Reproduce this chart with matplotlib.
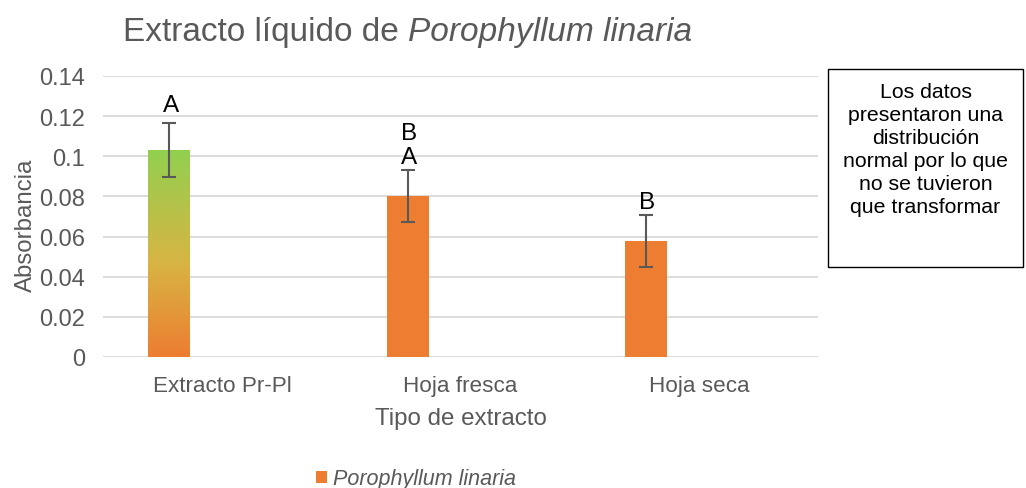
import numpy as np
import matplotlib.pyplot as plt
from matplotlib.colors import LinearSegmentedColormap

categories = ["Extracto Pr-Pl", "Hoja fresca", "Hoja seca"]
values = [0.1031, 0.0802, 0.0578]
errors = [0.0133, 0.0131, 0.0130]
letters = ["A", "B\nA", "B"]
yticks = [0, 0.02, 0.04, 0.06, 0.08, 0.1, 0.12, 0.14]
ytick_labels = ["0", "0.02", "0.04", "0.06", "0.08", "0.1", "0.12", "0.14"]
series_name = "Porophyllum linaria"
note = "Los datos\npresentaron una\ndistribución\nnormal por lo que\nno se tuvieron\nque transformar"

# layout of the letter annotations (points above the error bar)
letter_offsets = [5, 1.5, 1.5]

plt.rcParams['font.family'] = ['Liberation Sans', 'DejaVu Sans']
gray = "#595959"
orange = "#ED7D31"

fig = plt.figure(figsize=(10.26, 4.89), dpi=100)
ax = fig.add_axes([103/1026, 1-358/489, 715/1026, 281/489])

x = np.arange(len(categories))
width = 0.176
offset = -0.222
bars = ax.bar(x + offset, values, width=width, color=orange, zorder=3, label=series_name)

# gradient for first bar
cmap = LinearSegmentedColormap.from_list("g", [(0, orange), (0.45, "#D8B443"), (1, "#92D050")])
b0 = bars[0]
bx, bw, bh = b0.get_x(), b0.get_width(), b0.get_height()
grad = np.linspace(0, 1, 256).reshape(-1, 1)
b0.set_facecolor("none")
ax.imshow(grad, cmap=cmap, origin="lower", extent=[bx, bx + bw, 0, bh],
          aspect="auto", zorder=3)

ax.errorbar(x + offset, values, yerr=errors, fmt="none", ecolor=gray,
            elinewidth=1.5, capsize=5, capthick=1.5, zorder=4)

for xi, v, e, t, off in zip(x + offset, values, errors, letters, letter_offsets):
    ax.annotate(t, (xi, v + e), xytext=(1, off), textcoords="offset points",
                ha="center", va="bottom", fontsize=17.5, color="black",
                linespacing=1.07, zorder=5)

ax.set_xlim(-0.5, len(categories) - 0.5)
ax.set_ylim(0, 0.14)
ax.set_yticks(yticks)
ax.set_yticklabels(ytick_labels)
ax.set_xticks(x)
ax.set_xticklabels(categories)
ax.tick_params(axis="both", length=0, labelcolor=gray)
ax.tick_params(axis="x", pad=13, labelsize=16.2)
ax.tick_params(axis="y", pad=13, labelsize=17)
ax.grid(axis="y", color="#D9D9D9", linewidth=1.3, zorder=0)
ax.set_axisbelow(True)
for s in ax.spines.values():
    s.set_visible(False)

ax.set_ylabel("Absorbancia", fontsize=17.3, color=gray)
ax.yaxis.set_label_coords((37 - 103) / 715, (358 - 225) / 281)
ax.set_xlabel("Tipo de extracto", fontsize=17.4, color=gray, labelpad=8)

fig.text(123/1026, 1-32/489, "Extracto líquido de ", fontsize=24, color=gray,
         va="center", ha="left")
t1 = fig.texts[-1]
fig.canvas.draw()
bb = t1.get_window_extent()
fig.text(bb.x1/1026, 1-32/489, series_name, fontsize=24, color=gray,
         va="center", ha="left", style="italic")

leg = fig.legend(handles=[bars], labels=[series_name], loc="center",
                 bbox_to_anchor=(416/1026, 1-480/489), frameon=False,
                 prop={"size": 15.5, "style": "italic"}, handlelength=0.5,
                 handleheight=0.5, handletextpad=0.3)
for t in leg.get_texts():
    t.set_color(gray)
leg.legend_handles[0].set_facecolor(orange)

fig.text((828+1023)/2/1026, 1-150/489, note, fontsize=15.3, color="black",
         ha="center", va="center", linespacing=1.27)
fig.add_artist(plt.Rectangle((828/1026, 1-268/489), 195/1026, 198/489,
                             transform=fig.transFigure, fill=False,
                             edgecolor="black", linewidth=1))

fig.savefig("out.png", dpi=100)
